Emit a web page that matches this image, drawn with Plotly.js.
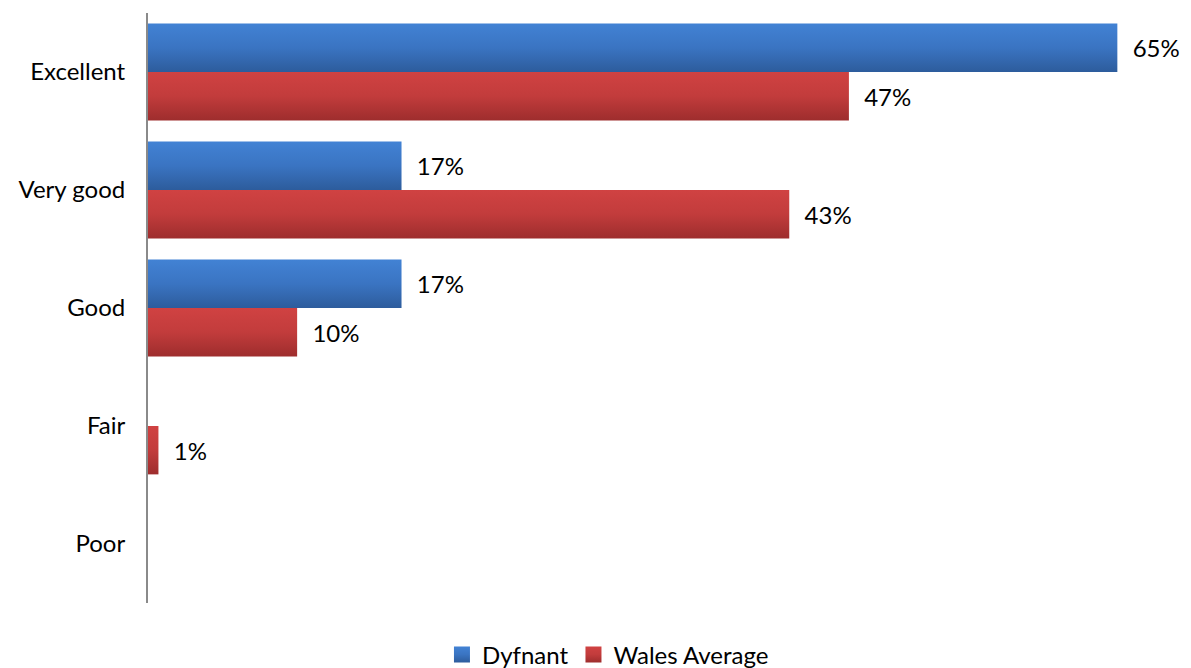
<!DOCTYPE html>
<html>
<head>
<meta charset="utf-8">
<script src="https://cdn.plot.ly/plotly-3.0.1.min.js"></script>
<style>html,body{margin:0;padding:0;background:#fff;}#chart{width:1191px;height:668px;}</style>
</head>
<body>
<div id="chart"></div>
<script>
const categories = ["Excellent", "Very good", "Good", "Fair", "Poor"];
const dyfnant = [65, 17, 17, 0, 0];
const walesAverage = [47, 43, 10, 0.7, 0];
const seriesNames = ["Dyfnant", "Wales Average"];

function labels(vals) { return vals.map(v => v > 0 ? "\u00a0\u00a0" + Math.round(v) + "%" : ""); }

const font = {family: "Lato, 'Open Sans', sans-serif", size: 24, color: "#000"};

const traces = [
  {type: "bar", orientation: "h", name: seriesNames[0], y: categories, x: dyfnant,
   marker: {color: "#3770BC"}, text: labels(dyfnant), textposition: "outside",
   textfont: font, cliponaxis: false, hoverinfo: "x+y"},
  {type: "bar", orientation: "h", name: seriesNames[1], y: categories, x: walesAverage,
   marker: {color: "#BF3A3A"}, text: labels(walesAverage), textposition: "outside",
   textfont: font, cliponaxis: false, hoverinfo: "x+y"}
];

const layout = {
  width: 1191, height: 668,
  margin: {l: 148, r: 14, t: 13, b: 65, autoexpand: false},
  paper_bgcolor: "#fff", plot_bgcolor: "#fff",
  barmode: "group", bargap: 0.18, bargroupgap: 0,
  font: font,
  xaxis: {range: [0, 69], showgrid: false, zeroline: false, showticklabels: false, showline: false, ticks: "", automargin: false},
  yaxis: {type: "category", categoryorder: "array", categoryarray: categories, autorange: "reversed",
          showgrid: false, zeroline: false, showline: true, linecolor: "#8a8a8a", linewidth: 2,
          ticks: "", ticklabelstandoff: 16, tickfont: font, automargin: false},
  showlegend: true,
  legend: {orientation: "h", xref: "paper", x: 0.447, xanchor: "center", yref: "paper", y: -0.088, yanchor: "middle",
           font: font, itemwidth: 30, traceorder: "normal"},
  uniformtext: {mode: false}
};

function styleBars() {
  const svg = document.querySelector("#chart .main-svg");
  const ns = "http://www.w3.org/2000/svg";
  let defs = svg.querySelector("defs");
  if (!defs) { defs = document.createElementNS(ns, "defs"); svg.insertBefore(defs, svg.firstChild); }
  const grads = {gB: ["#4282D4", "#3A74C2", "#2D5C9C"], gR: ["#D04242", "#C23C3C", "#9E2D2D"]};
  Object.keys(grads).forEach(function (id) {
    if (document.getElementById(id)) return;
    const g = document.createElementNS(ns, "linearGradient");
    g.setAttribute("id", id); g.setAttribute("x1", "0"); g.setAttribute("y1", "0"); g.setAttribute("x2", "0"); g.setAttribute("y2", "1");
    [[0, grads[id][0]], [0.5, grads[id][1]], [1, grads[id][2]]].forEach(function (s) {
      const st = document.createElementNS(ns, "stop");
      st.setAttribute("offset", s[0]); st.setAttribute("stop-color", s[1]); g.appendChild(st);
    });
    defs.appendChild(g);
  });
  document.querySelectorAll("#chart .barlayer .trace").forEach(function (tg, i) {
    tg.querySelectorAll("path").forEach(function (p) { p.style.fill = "url(#" + (i === 0 ? "gB" : "gR") + ")"; });
  });
  document.querySelectorAll("#chart .legend .traces").forEach(function (lt, i) {
    lt.querySelectorAll(".legendpoints path").forEach(function (p) {
      p.style.fill = "url(#" + (i === 0 ? "gB" : "gR") + ")";
      p.setAttribute("d", "M8,8H-8V-8H8Z");
    });
  });
}

Plotly.newPlot("chart", traces, layout, {displayModeBar: false, staticPlot: true}).then(function () {
  styleBars();
  setTimeout(styleBars, 50);
});
</script>
</body>
</html>
